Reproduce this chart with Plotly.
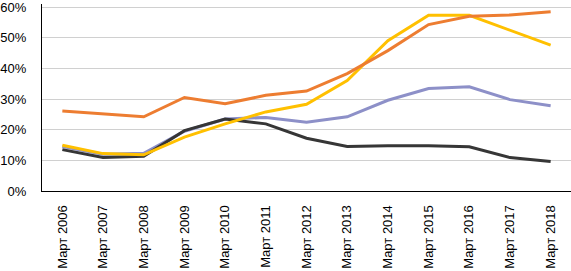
import plotly.graph_objects as go

categories = ["Март 2006", "Март 2007", "Март 2008", "Март 2009", "Март 2010",
              "Март 2011", "Март 2012", "Март 2013", "Март 2014", "Март 2015",
              "Март 2016", "Март 2017", "Март 2018"]

blue_vals = [14.5, 12.0, 12.3, 19.5, 23.5, 24.0, 22.4, 24.2, 29.6, 33.4, 34.0, 29.8, 27.8]
black_vals = [13.5, 10.9, 11.3, 19.7, 23.5, 21.9, 17.2, 14.5, 14.8, 14.8, 14.4, 10.9, 9.6]
yellow_vals = [14.9, 12.2, 11.8, 17.6, 21.9, 25.8, 28.3, 36.0, 49.0, 57.3, 57.3, 52.5, 47.6]
orange_vals = [26.1, 25.2, 24.2, 30.5, 28.5, 31.2, 32.6, 38.3, 45.8, 54.3, 57.0, 57.4, 58.5]

tick_vals = [0, 10, 20, 30, 40, 50, 60]
tick_text = ["0%", "10%", "20%", "30%", "40%", "50%", "60%"]

series = [
    ("Серия 3", blue_vals, "#8D90C8"),
    ("Серия 4", black_vals, "#363636"),
    ("Серия 2", yellow_vals, "#FFC000"),
    ("Серия 1", orange_vals, "#ED7D31"),
]

fig = go.Figure()
for name, vals, color in series:
    fig.add_trace(go.Scatter(x=categories, y=vals, mode="lines", name=name,
                             line=dict(color=color, width=3)))

yfont = dict(family="Liberation Sans, Arial, sans-serif", size=13, color="#000000")
xfont = dict(family="Liberation Sans, Arial, sans-serif", size=13, color="#000000")

fig.update_layout(
    width=571, height=271,
    margin=dict(l=41, r=0, t=2, b=80),
    paper_bgcolor="white", plot_bgcolor="white",
    showlegend=False,
    font=yfont,
    xaxis=dict(type="category", range=[-0.5, 12.5], tickangle=-90,
               showgrid=False, showline=True, linecolor="#000000", linewidth=1,
               ticks="outside", ticklen=8, tickcolor="rgba(0,0,0,0)",
               tickfont=xfont),
    yaxis=dict(range=[0, 61], tickvals=tick_vals, ticktext=tick_text,
               showgrid=True, gridcolor="#D0D0D0", gridwidth=1,
               showline=True, linecolor="#000000", linewidth=1,
               zeroline=False, ticks="outside", ticklen=12,
               tickcolor="rgba(0,0,0,0)", tickfont=yfont,
               ticklabeloverflow="allow"),
)

fig.write_html("out.html",
               config={"displayModeBar": False},
               post_script="document.body.style.margin='0';document.body.style.overflow='hidden';")
